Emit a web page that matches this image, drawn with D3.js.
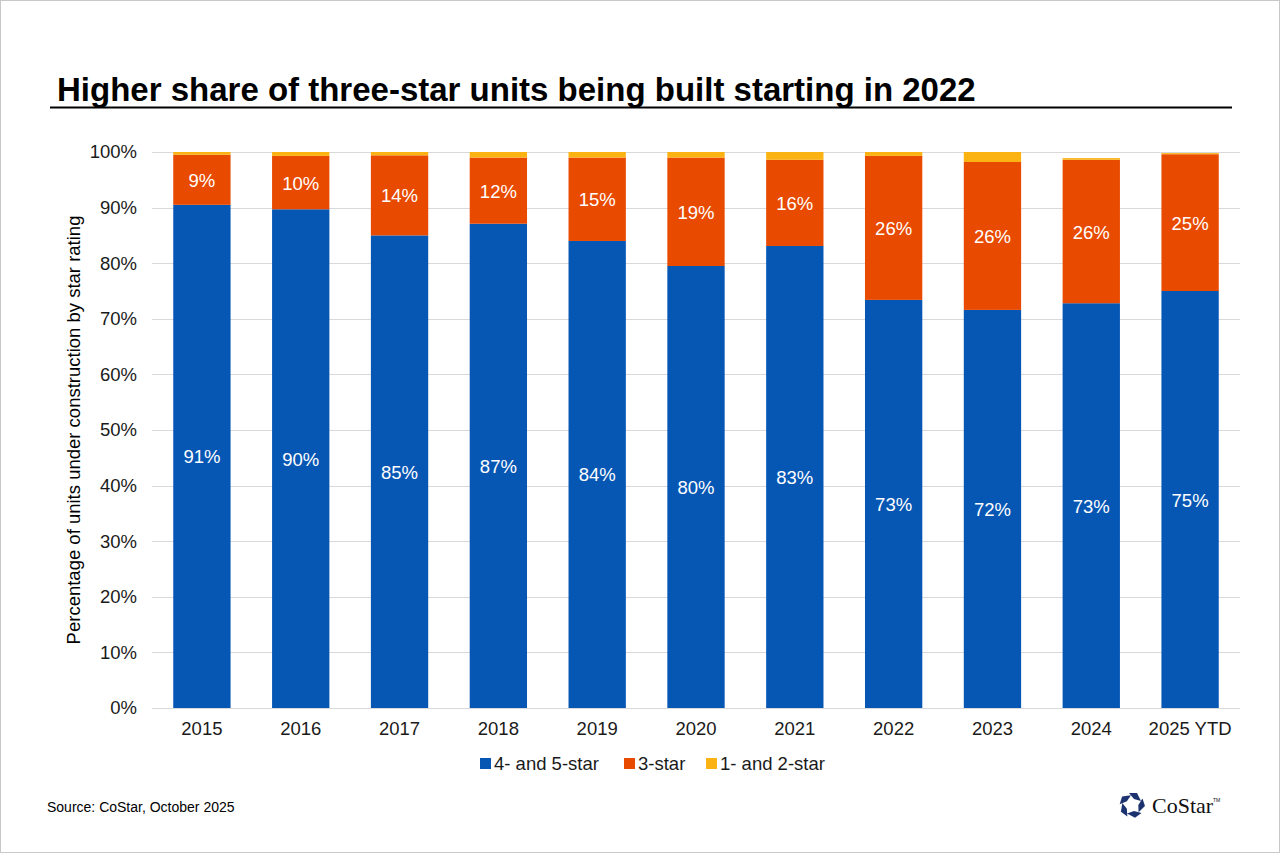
<!DOCTYPE html>
<html>
<head>
<meta charset="utf-8">
<script src="https://cdn.jsdelivr.net/npm/d3@7"></script>
<style>
body { margin: 0; background: #fff; }
text { font-family: Arial, "Liberation Sans", sans-serif; }
</style>
</head>
<body>
<div id="chart"></div>
<script>
var years = ["2015", "2016", "2017", "2018", "2019", "2020", "2021", "2022", "2023", "2024", "2025 YTD"];
var fourFive = [90.5, 89.7, 85.0, 87.1, 84.0, 79.5, 83.1, 73.4, 71.6, 72.8, 75.0];
var threeStar = [9.0, 9.6, 14.4, 11.9, 15.0, 19.5, 15.5, 25.9, 26.6, 25.8, 24.6];
var oneTwo = [0.5, 0.7, 0.6, 1.0, 1.0, 1.0, 1.4, 0.7, 1.8, 0.3, 0.2];
var fourFiveLabels = ["91%", "90%", "85%", "87%", "84%", "80%", "83%", "73%", "72%", "73%", "75%"];
var threeLabels = ["9%", "10%", "14%", "12%", "15%", "19%", "16%", "26%", "26%", "26%", "25%"];
var seriesNames = ["4- and 5-star", "3-star", "1- and 2-star"];
var colors = ["#0656b4", "#e84a00", "#fbb314"];
var yTicks = [0, 10, 20, 30, 40, 50, 60, 70, 80, 90, 100];

var width = 1280, height = 853;
var svg = d3.select("#chart").append("svg")
	.attr("width", width)
	.attr("height", height);

// frame
svg.append("rect")
	.attr("x", 0.5).attr("y", 0.5)
	.attr("width", width - 1).attr("height", height - 1)
	.attr("fill", "#fff").attr("stroke", "#c8c8c8");

// title
svg.append("text")
	.attr("x", 57).attr("y", 101)
	.attr("font-size", 33).attr("font-weight", "bold").attr("fill", "#000")
	.text("Higher share of three-star units being built starting in 2022");
svg.append("line")
	.attr("x1", 50).attr("x2", 1232).attr("y1", 107.5).attr("y2", 107.5)
	.attr("stroke", "#000").attr("stroke-width", 2);

var x = d3.scaleBand().domain(years).range([152.5, 1239.5]).paddingInner(0.42).paddingOuter(0.21);
var y = d3.scaleLinear().domain([0, 100]).range([708, 152]);

// gridlines
svg.append("g").selectAll("line")
	.data(yTicks.slice(1))
	.enter().append("line")
	.attr("x1", 152).attr("x2", 1240)
	.attr("y1", function (d) { return Math.round(y(d)) + 0.5; })
	.attr("y2", function (d) { return Math.round(y(d)) + 0.5; })
	.attr("stroke", "#d9d9d9");

// stacked bars
var rows = years.map(function (yr, i) {
	return { year: yr, a: fourFive[i], b: threeStar[i], c: oneTwo[i] };
});
var stack = d3.stack().keys(["a", "b", "c"]);
var layers = stack(rows);

svg.append("g").selectAll("g")
	.data(layers)
	.enter().append("g")
	.attr("fill", function (d, i) { return colors[i]; })
	.selectAll("rect")
	.data(function (d) { return d; })
	.enter().append("rect")
	.attr("x", function (d) { return x(d.data.year); })
	.attr("width", x.bandwidth())
	.attr("y", function (d) { return y(d[1]); })
	.attr("height", function (d) { return y(d[0]) - y(d[1]); });

// baseline
svg.append("line")
	.attr("x1", 152).attr("x2", 1240).attr("y1", 708.5).attr("y2", 708.5)
	.attr("stroke", "#d9d9d9");

// value labels
var labelSets = [fourFiveLabels, threeLabels];
labelSets.forEach(function (labels, k) {
	svg.append("g").selectAll("text")
		.data(layers[k])
		.enter().append("text")
		.attr("x", function (d) { return x(d.data.year) + x.bandwidth() / 2; })
		.attr("y", function (d) { return (y(d[0]) + y(d[1])) / 2 + 7; })
		.attr("text-anchor", "middle")
		.attr("font-size", 18.5).attr("fill", "#fff")
		.text(function (d, i) { return labels[i]; });
});

// y axis
var yAxis = svg.append("g")
	.attr("transform", "translate(152,0)")
	.call(d3.axisLeft(y).tickValues(yTicks).tickSize(0).tickPadding(15).tickFormat(function (d) { return d + "%"; }));
yAxis.select(".domain").remove();
yAxis.selectAll("text").attr("font-size", 18.5).attr("fill", "#1a1a1a");

// x axis
var xAxis = svg.append("g")
	.attr("transform", "translate(0,708)")
	.call(d3.axisBottom(x).tickSize(0).tickPadding(14));
xAxis.select(".domain").remove();
xAxis.selectAll("text").attr("font-size", 18.5).attr("fill", "#1a1a1a");

// y title
svg.append("text")
	.attr("transform", "translate(80,430) rotate(-90)")
	.attr("text-anchor", "middle")
	.attr("font-size", 18.5).attr("fill", "#000")
	.text("Percentage of units under construction by star rating");

// legend
var legendX = [480, 624, 706];
var legend = svg.append("g").selectAll("g")
	.data(seriesNames)
	.enter().append("g")
	.attr("transform", function (d, i) { return "translate(" + legendX[i] + ",763)"; });
legend.append("rect")
	.attr("x", 0).attr("y", -5).attr("width", 11).attr("height", 11)
	.attr("fill", function (d, i) { return colors[i]; });
legend.append("text")
	.attr("x", 14).attr("y", 7)
	.attr("font-size", 18.5).attr("fill", "#1a1a1a")
	.text(function (d) { return d; });

// source
svg.append("text")
	.attr("x", 47).attr("y", 812)
	.attr("font-size", 14).attr("fill", "#000")
	.text("Source: CoStar, October 2025");

// logo
var logo = svg.append("g").attr("transform", "translate(1132,805)");
for (var i = 0; i < 5; i++) {
	logo.append("path")
		.attr("d", "M-3,-12 L5,-12 L9,-4 L2,-6 Z")
		.attr("fill", "#1c3370")
		.attr("transform", "rotate(" + (i * 72) + ")");
}
logo.append("text")
	.attr("x", 20).attr("y", 8)
	.style("font-family", "'Liberation Serif', 'DejaVu Serif', serif")
	.attr("font-size", 22).attr("fill", "#111")
	.text("CoStar");
logo.append("text")
	.attr("x", 81).attr("y", -3)
	.attr("font-size", 5).attr("fill", "#111")
	.text("TM");
</script>
</body>
</html>
